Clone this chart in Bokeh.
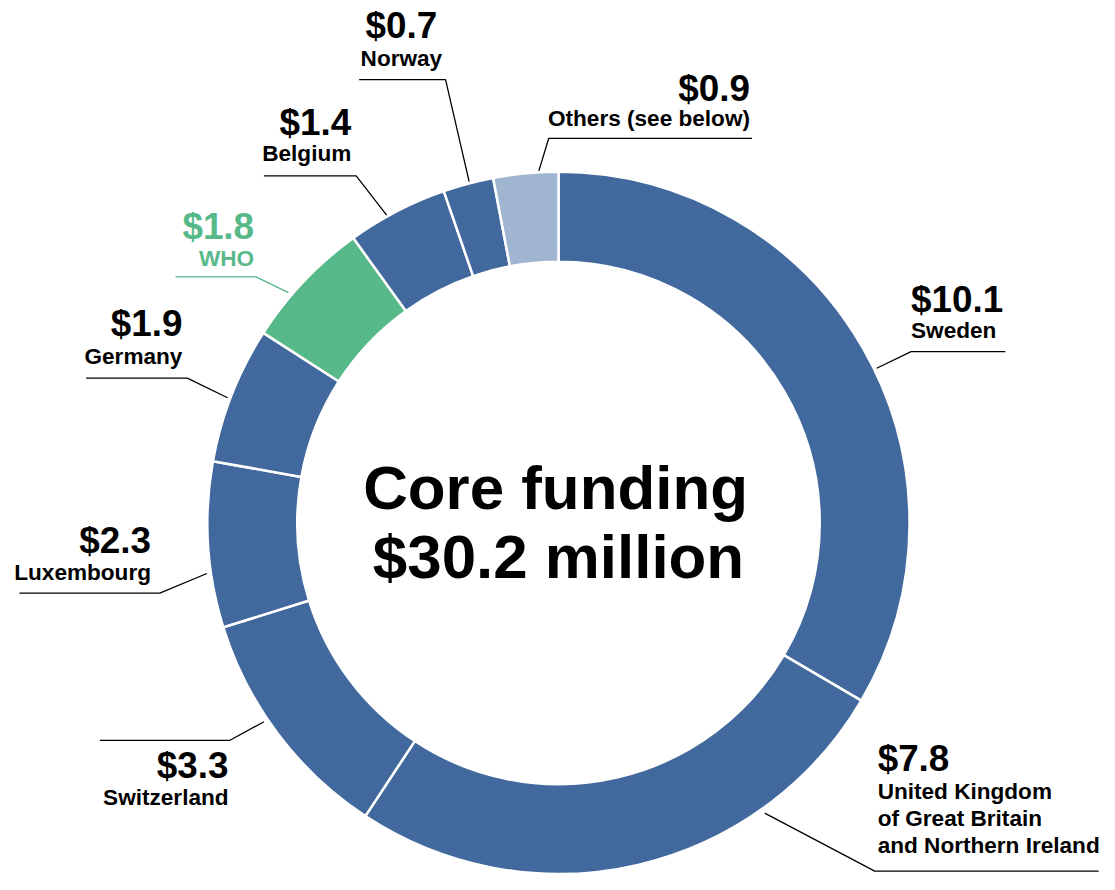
import math
from bokeh.plotting import figure
from bokeh.models import Range1d, ColumnDataSource
from bokeh.embed import file_html
from bokeh.resources import INLINE
from bokeh.core.properties import value

# ---------------- data ----------------
donors = ["Sweden",
          "United Kingdom\nof Great Britain\nand Northern Ireland",
          "Switzerland", "Luxembourg", "Germany", "WHO",
          "Belgium", "Norway", "Others (see below)"]
amounts = [10.1, 7.8, 3.3, 2.3, 1.9, 1.8, 1.4, 0.7, 0.9]
center_line1 = "Core funding"
center_unit = "million"

# ---------------- style ----------------
BLUE = "#41699d"
GREEN = "#57b98a"
LIGHT = "#a0b5cf"
INK = "#000000"
FONT = value("Liberation Sans")

def slice_color(name):
    if name == "WHO":
        return GREEN
    if name.startswith("Others"):
        return LIGHT
    return BLUE

# layout in reference pixel space (x right, y down)
CX, CY = 558.0, 531.5
R_IN, R_OUT = 266.0, 357.5
# per-label: (x, value baseline, name baseline, align, leader polyline)
layout = {
    "Sweden": (917, 317, 344, "left", [(1013, 357), (917, 357), (882, 374)]),
    "United Kingdom": (883, 785, 813, "left", [(1108, 886), (880, 886), (768, 827)]),
    "Switzerland": (222, 792, 819, "right", [(91, 753), (223, 753), (258, 734)]),
    "Luxembourg": (143, 563, 590, "right", [(9, 603), (152, 603), (200, 583)]),
    "Germany": (175, 342, 370, "right", [(77, 384), (180, 384), (221, 404)]),
    "WHO": (248, 243, 270, "right", [(168, 281), (250, 281), (283, 297)]),
    "Belgium": (347, 137, 163, "right", [(258, 178), (352, 178), (383, 218)]),
    "Norway": (398, 38, 67, "center", [(355, 80), (443, 80), (467, 184)]),
    "Others": (753, 102, 128, "right", [(755, 140), (548, 140), (538, 173)]),
}
LINE_GAP = 27.5
BASE_FIX = 0.35   # renderer places alphabetic baseline ~0.35em low

W, H = 1099, 874
Y_TOP, Y_BOT = -0.5, 889.5
S = H / (Y_BOT - Y_TOP)          # px per reference unit
x0 = CX - CX / S
x1 = x0 + W / S

p = figure(width=W, height=H, output_backend="svg", toolbar_location=None,
           x_range=Range1d(x0, x1), y_range=Range1d(-Y_BOT, -Y_TOP),
           min_border=0, outline_line_color=None)
p.axis.visible = False
p.grid.visible = False
p.background_fill_color = "white"
p.border_fill_color = "white"

total = sum(amounts)
starts, ends, cols = [], [], []
cum = 0.0
for name, a in zip(donors, amounts):
    a0 = cum
    cum += a
    starts.append(math.pi / 2 - 2 * math.pi * cum / total)
    ends.append(math.pi / 2 - 2 * math.pi * a0 / total)
    cols.append(slice_color(name))

src = ColumnDataSource(dict(x=[CX] * len(donors), y=[-CY] * len(donors),
                            start=starts, end=ends, color=cols))
p.annular_wedge(x="x", y="y", inner_radius=R_IN, outer_radius=R_OUT,
                start_angle="start", end_angle="end", fill_color="color",
                line_color="white", line_width=2.5, source=src)

def fs(px):
    return value(f"{px * S:.2f}px")

def label(xs, ys, texts, size, color, align):
    p.text(x=xs, y=[-yy + BASE_FIX * size for yy in ys], text=texts,
           text_font=FONT, text_font_style="bold", text_font_size=fs(size),
           text_color=color, text_align=align, text_baseline="alphabetic")

VAL_SIZE, NAME_SIZE, CENTER_SIZE = 37.5, 23, 63

for name, a in zip(donors, amounts):
    key = name.split("\n")[0].split(" (")[0]
    if key not in layout:
        key = name.split()[0]
    x, yv, yn, align, pts = layout[key]
    col = GREEN if name == "WHO" else INK
    p.line([q[0] for q in pts], [-q[1] for q in pts], line_color=col,
           line_width=1.3)
    label([x], [yv], [f"${a:.1f}"], VAL_SIZE, col, align)
    lines = name.split("\n")
    label([x] * len(lines), [yn + i * LINE_GAP for i in range(len(lines))],
          lines, NAME_SIZE, col, align)

label([555, 558], [517, 588], [center_line1, f"${total:.1f} {center_unit}"],
      CENTER_SIZE, INK, "center")

open("out.html", "w").write(file_html(p, INLINE))
